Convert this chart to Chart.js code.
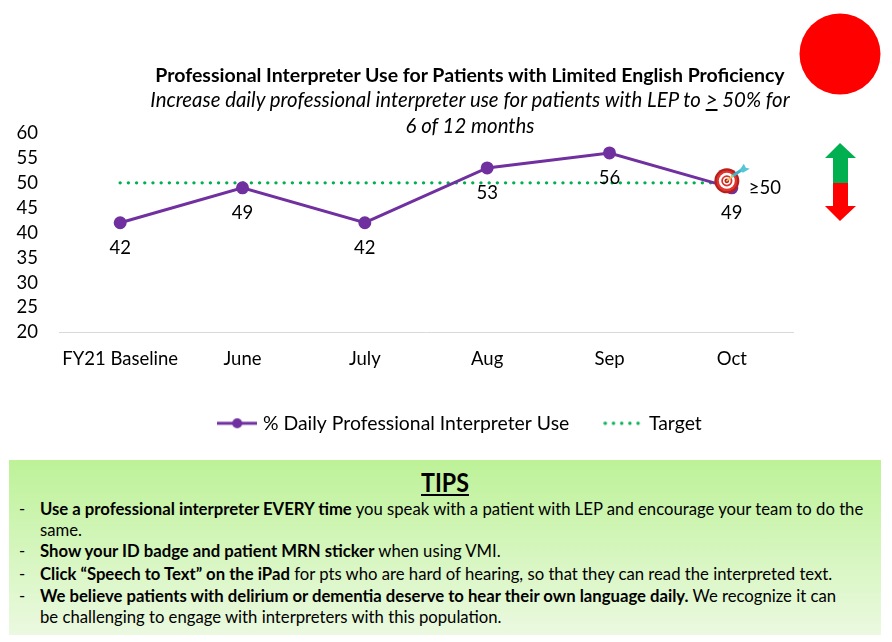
<!DOCTYPE html>
<html>
<head>
<meta charset="utf-8">
<script src="https://cdn.jsdelivr.net/npm/chart.js@4"></script>
<style>
  html, body { margin: 0; padding: 0; background: #fff; overflow: hidden; }
  body { width: 892px; height: 642px; position: relative; font-family: Lato, sans-serif; color: #000; }
  #grafico { position: absolute; left: 0; top: 0; }
  .titulo { position: absolute; left: 48px; width: 844px; text-align: center; white-space: nowrap; line-height: 24px; }
  #t1 { top: 63px; font-weight: 700; font-size: 19.5px; }
  #t2 { top: 87px; font-style: italic; font-size: 20.4px; }
  #t3 { top: 113px; font-style: italic; font-size: 20.4px; }
  #tips { position: absolute; left: 9px; top: 460px; width: 872px; height: 175px;
          background: linear-gradient(#bdf298, #ebf9e0); }
  #tips h2 { position: absolute; left: 0; width: 100%; top: 6px; margin: 0; text-align: center;
             font-size: 27px; line-height: 32px; font-weight: 700; text-decoration: underline; transform: scaleX(.86); }
  #tips div { position: absolute; white-space: nowrap; font-size: 16.7px; line-height: 20px; }
  #tips .guion { left: 10px; }
  #tips .linea { left: 31px; }
  svg { position: absolute; left: 0; top: 0; }
</style>
</head>
<body>
<canvas id="grafico" width="892" height="460" style="width:892px;height:460px"></canvas>
<div class="titulo" id="t1">Professional Interpreter Use for Patients with Limited English Proficiency</div>
<div class="titulo" id="t2">Increase daily professional interpreter use for patients with LEP to <u>&gt;</u> 50% for</div>
<div class="titulo" id="t3">6 of 12 months</div>

<svg width="892" height="240">
  <circle cx="840" cy="54" r="40.5" fill="#ff0000"/>
  <path d="M840 143 L856 158 L848 158 L848 183 L833 183 L833 158 L825 158 Z" fill="#00b050"/>
  <path d="M840 221 L856 206 L848 206 L848 183 L833 183 L833 206 L825 206 Z" fill="#ff0000"/>
</svg>

<div id="tips">
  <h2>TIPS</h2>
  <div class="guion" style="top:39px">-</div>
  <div class="linea" style="top:39px"><b>Use a professional interpreter EVERY time</b> you speak with a patient with LEP and encourage your team to do the</div>
  <div class="linea" style="top:60px">same.</div>
  <div class="guion" style="top:81px">-</div>
  <div class="linea" style="top:81px"><b>Show your ID badge and patient MRN sticker</b> when using VMI.</div>
  <div class="guion" style="top:104px">-</div>
  <div class="linea" style="top:104px"><b>Click “Speech to Text” on the iPad</b> for pts who are hard of hearing, so that they can read the interpreted text.</div>
  <div class="guion" style="top:126px">-</div>
  <div class="linea" style="top:126px"><b>We believe patients with delirium or dementia deserve to hear their own language daily.</b> We recognize it can</div>
  <div class="linea" style="top:147px">be challenging to engage with interpreters with this population.</div>
</div>

<script>
// Datos del grafico
const categorias = ["FY21 Baseline", "June", "July", "Aug", "Sep", "Oct"];
const usoInterprete = [42, 49, 42, 53, 56, 49];
const metaValores = [50, 50, 50, 50, 50, 50];
const etiquetaMeta = "≥50";
const ticksY = [20, 25, 30, 35, 40, 45, 50, 55, 60];

const MORADO = "#7030a0";
const VERDE = "#00b050";
const FUENTE = "Lato, sans-serif";

// Muestras de la leyenda (linea con punto / linea punteada)
function muestraLeyenda(dibujar) {
  const c = document.createElement("canvas");
  c.width = 40;
  c.height = 14;
  dibujar(c.getContext("2d"));
  return c;
}
const muestraUso = muestraLeyenda(g => {
  g.strokeStyle = MORADO; g.lineWidth = 3;
  g.beginPath(); g.moveTo(0, 7); g.lineTo(40, 7); g.stroke();
  g.fillStyle = MORADO;
  g.beginPath(); g.arc(20, 7, 5, 0, Math.PI * 2); g.fill();
});
const muestraMeta = muestraLeyenda(g => {
  g.fillStyle = VERDE;
  for (let x = 2; x < 38; x += 8.2) {
    g.beginPath(); g.arc(x, 7, 1.7, 0, Math.PI * 2); g.fill();
  }
});

// Etiquetas de valor, diana y texto de meta
const decoraciones = {
  id: "decoraciones",
  afterLayout(chart) {
    chart.legend.left += 65;
    chart.legend.right += 65;
    chart.legend.top -= 3;
    chart.legend.bottom -= 3;
  },
  afterDatasetsDraw(chart) {
    const { ctx } = chart;
    const meta = chart.getDatasetMeta(0);
    ctx.save();
    ctx.fillStyle = "#000";
    ctx.font = "18.5px " + FUENTE;
    ctx.textAlign = "center";
    ctx.textBaseline = "middle";
    meta.data.forEach((p, i) => {
      ctx.fillText(String(usoInterprete[i]), p.x, p.y + 25);
    });

    const ultimo = meta.data[meta.data.length - 1];
    ctx.textAlign = "left";
    ctx.fillText(etiquetaMeta, ultimo.x + 17, ultimo.y);
    dibujarDiana(ctx, ultimo.x - 5, ultimo.y - 7);
    ctx.restore();
  }
};

function dibujarDiana(ctx, x, y) {
  const anillos = [[12.5, "#b81f1b"], [10.4, "#e0352f"], [8, "#ffffff"], [5.6, "#d8322c"], [3.8, "#ffffff"], [2.4, "#b81f1b"]];
  anillos.forEach(a => {
    ctx.fillStyle = a[1];
    ctx.beginPath();
    ctx.arc(x, y, a[0], 0, Math.PI * 2);
    ctx.fill();
  });
  // dardo
  ctx.strokeStyle = "#3fb4c8";
  ctx.lineWidth = 3;
  ctx.lineCap = "round";
  ctx.beginPath(); ctx.moveTo(x + 6, y - 5); ctx.lineTo(x + 15, y - 11); ctx.stroke();
  ctx.fillStyle = "#56c6d6";
  ctx.beginPath();
  ctx.moveTo(x + 13, y - 11);
  ctx.lineTo(x + 17, y - 17);
  ctx.lineTo(x + 19, y - 13);
  ctx.lineTo(x + 23, y - 12);
  ctx.lineTo(x + 16, y - 8);
  ctx.closePath();
  ctx.fill();
  ctx.strokeStyle = "#e6c35a";
  ctx.lineWidth = 1.5;
  ctx.beginPath(); ctx.moveTo(x, y); ctx.lineTo(x + 6, y - 5); ctx.stroke();
}

new Chart(document.getElementById("grafico"), {
  type: "line",
  plugins: [decoraciones],
  data: {
    labels: categorias,
    datasets: [
      {
        label: "% Daily Professional Interpreter Use",
        data: usoInterprete,
        borderColor: MORADO,
        backgroundColor: MORADO,
        borderWidth: 3,
        pointRadius: 5,
        pointBackgroundColor: MORADO,
        pointBorderColor: MORADO,
        tension: 0
      },
      {
        label: "Target",
        data: metaValores,
        borderColor: VERDE,
        backgroundColor: VERDE,
        borderWidth: 3.4,
        borderDash: [0, 8.2],
        borderCapStyle: "round",
        pointRadius: 0,
        tension: 0
      }
    ]
  },
  options: {
    responsive: false,
    animation: false,
    layout: { padding: { left: 0, right: 99, top: 133, bottom: 14 } },
    plugins: {
      title: { display: false },
      tooltip: { enabled: false },
      legend: {
        position: "bottom",
        labels: {
          color: "#000",
          font: { family: FUENTE, size: 19.4 },
          usePointStyle: true,
          pointStyleWidth: 32,
          boxHeight: 14,
          padding: 38,
          generateLabels(chart) {
            const items = Chart.defaults.plugins.legend.labels.generateLabels(chart);
            items[0].pointStyle = muestraUso;
            items[1].pointStyle = muestraMeta;
            return items;
          }
        }
      }
    },
    scales: {
      x: {
        offset: true,
        grid: { display: false },
        border: { color: "#d9d9d9", width: 1 },
        ticks: { color: "#000", font: { family: FUENTE, size: 18.5 }, padding: 8, maxRotation: 0, autoSkip: false }
      },
      y: {
        min: 20,
        max: 60,
        afterBuildTicks(scale) { scale.ticks = ticksY.map(v => ({ value: v })); },
        afterFit(scale) { scale.width = 59; },
        grid: { display: false },
        border: { display: false },
        ticks: { color: "#000", font: { family: FUENTE, size: 18.5 }, padding: 13, autoSkip: false }
      }
    }
  }
});
</script>
</body>
</html>
